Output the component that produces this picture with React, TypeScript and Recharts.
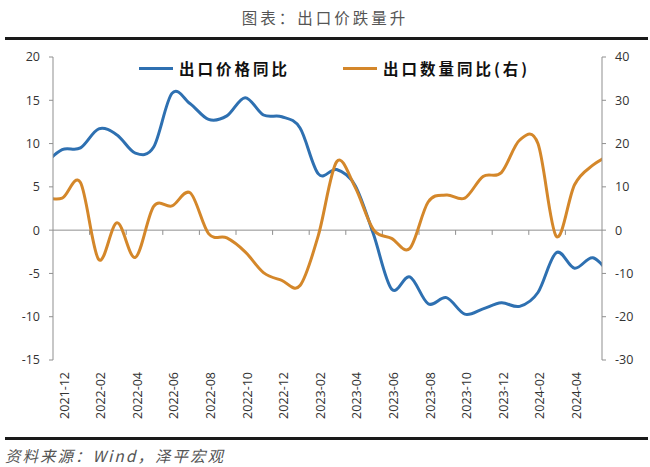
import { LineChart, Line, XAxis, YAxis, ReferenceLine, Legend } from "recharts";

// 2021-11 and 2024-06 sit just outside the axis and get clipped, like the original
const months = [
  "2021-11", "2021-12",
  "2022-01", "2022-02", "2022-03", "2022-04", "2022-05", "2022-06",
  "2022-07", "2022-08", "2022-09", "2022-10", "2022-11", "2022-12",
  "2023-01", "2023-02", "2023-03", "2023-04", "2023-05", "2023-06",
  "2023-07", "2023-08", "2023-09", "2023-10", "2023-11", "2023-12",
  "2024-01", "2024-02", "2024-03", "2024-04", "2024-05", "2024-06",
];

// 出口价格同比 (left axis)
const priceYoY = [
  7.6, 9.3,
  9.5, 11.7, 11.0, 8.9, 9.6, 15.8,
  14.6, 12.8, 13.2, 15.3, 13.3, 13.1,
  11.8, 6.5, 7.0, 5.2, -0.4, -6.8,
  -5.4, -8.5, -7.8, -9.7, -9.1, -8.4,
  -8.8, -7.2, -2.6, -4.4, -3.2, -5.2,
];

// 出口数量同比 (right axis)
const volumeYoY = [
  7.6, 7.4,
  11.0, -6.8, 1.7, -6.3, 5.5, 5.6,
  8.6, -0.8, -1.8, -5.0, -9.8, -11.6,
  -12.8, -1.2, 15.8, 10.0, 0.2, -1.9,
  -4.2, 6.5, 8.1, 7.4, 12.4, 13.3,
  20.8, 20.0, -1.4, 10.5, 15.0, 17.5,
];

const leftTicks = [-15, -10, -5, 0, 5, 10, 15, 20];
const rightTicks = [-30, -20, -10, 0, 10, 20, 30, 40];

const labelTicks = months.map((_, i) => i).filter((i) => i % 2 === 1 && i < months.length - 2);
const boundaryTicks = labelTicks.slice(1).map((i) => i - 0.5);

const data = months.map((m, i) => ({ x: i, month: m, price: priceYoY[i], volume: volumeYoY[i] }));

const BLUE = "#2e70b1";
const ORANGE = "#d4872a";
const AXIS = "#8f8f8f";
const FONT = "'Open Sans', 'Noto Sans CJK SC', sans-serif";
const CJK = "'Noto Sans CJK SC', sans-serif";

const legendLeft = [139, 343];

// Excel-style smoothed line: Catmull-Rom through every point
function smoothCurve(context: any) {
  let pts: number[][] = [];
  return {
    areaStart() {},
    areaEnd() {},
    lineStart() {
      pts = [];
    },
    point(x: number, y: number) {
      pts.push([+x, +y]);
    },
    lineEnd() {
      if (!pts.length) return;
      context.moveTo(pts[0][0], pts[0][1]);
      for (let i = 0; i < pts.length - 1; i++) {
        const p0 = pts[i - 1] || pts[i];
        const p1 = pts[i];
        const p2 = pts[i + 1];
        const p3 = pts[i + 2] || p2;
        context.bezierCurveTo(
          p1[0] + (p2[0] - p0[0]) / 6,
          p1[1] + (p2[1] - p0[1]) / 6,
          p2[0] - (p3[0] - p1[0]) / 6,
          p2[1] - (p3[1] - p1[1]) / 6,
          p2[0],
          p2[1]
        );
      }
    },
  };
}

function MonthTick(props: any) {
  const { x, y, payload } = props;
  const tx = x + 2;
  const ty = y + 4;
  return (
    <text
      x={tx}
      y={ty}
      transform={`rotate(-90, ${tx}, ${ty})`}
      textAnchor="end"
      dominantBaseline="central"
      fill="#333"
      fontSize={12.5}
      fontFamily={FONT}
    >
      {months[payload.value]}
    </text>
  );
}

function LegendContent(props: any) {
  const items = props.payload || [];
  return (
    <div style={{ position: "relative", height: 22 }}>
      {items.map((p: any, i: number) => (
        <div
          key={p.value}
          style={{ position: "absolute", left: legendLeft[i], top: 0, height: 22, display: "flex", alignItems: "center" }}
        >
          <span style={{ display: "inline-block", width: 34, height: 3, background: p.color, marginRight: 6 }} />
          <span style={{ fontFamily: CJK, fontWeight: 700, fontSize: 15.5, letterSpacing: 3, color: "#111" }}>{p.value}</span>
        </div>
      ))}
    </div>
  );
}

export default function App() {
  return (
    <div style={{ position: "absolute", left: 0, top: 0, width: 650, height: 467, background: "#fff", overflow: "hidden" }}>
      <div
        style={{
          position: "absolute", left: 0, top: 6, width: 650, textAlign: "center",
          fontFamily: CJK, fontSize: 15.5, letterSpacing: 3, color: "#555",
        }}
      >
        图表：出口价跌量升
      </div>
      <div style={{ position: "absolute", left: 5, top: 37, width: 643, height: 3, background: "#1a1a1a" }} />

      <div style={{ position: "absolute", left: 0, top: 0 }}>
        <LineChart width={650} height={467} data={data} margin={{ top: 57, right: 0, bottom: 0, left: 0 }}>
          <XAxis
            dataKey="x"
            type="number"
            domain={[0.5, 30.5]}
            allowDataOverflow
            ticks={labelTicks}
            interval={0}
            tick={<MonthTick />}
            axisLine={false}
            tickLine={false}
            height={107}
          />
          <YAxis
            yAxisId="left"
            domain={[-15, 20]}
            ticks={leftTicks}
            interval={0}
            width={53}
            tickSize={4}
            tickMargin={9}
            axisLine={{ stroke: AXIS }}
            tickLine={{ stroke: AXIS }}
            tick={{ fill: "#333", fontSize: 12.5, fontFamily: FONT }}
          />
          <YAxis
            yAxisId="right"
            orientation="right"
            domain={[-30, 40]}
            ticks={rightTicks}
            interval={0}
            width={48}
            tickSize={4}
            tickMargin={9}
            axisLine={{ stroke: AXIS }}
            tickLine={{ stroke: AXIS }}
            tick={{ fill: "#333", fontSize: 12.5, fontFamily: FONT }}
          />
          <ReferenceLine yAxisId="left" y={0} stroke={AXIS} strokeWidth={1} />
          {boundaryTicks.map((b) => (
            <ReferenceLine
              key={b}
              yAxisId="left"
              segment={[{ x: b, y: 0 }, { x: b, y: -0.55 }]}
              stroke={AXIS}
              strokeWidth={1}
            />
          ))}
          <Legend layout="horizontal" verticalAlign="middle" wrapperStyle={{ top: 57, left: 0, width: 650 }} content={<LegendContent />} />
          <Line
            yAxisId="left"
            dataKey="price"
            name="出口价格同比"
            type={smoothCurve as any}
            stroke={BLUE}
            strokeWidth={3}
            dot={false}
            isAnimationActive={false}
          />
          <Line
            yAxisId="right"
            dataKey="volume"
            name="出口数量同比(右)"
            type={smoothCurve as any}
            stroke={ORANGE}
            strokeWidth={3}
            dot={false}
            isAnimationActive={false}
          />
        </LineChart>
      </div>

      <div style={{ position: "absolute", left: 5, top: 437, width: 643, height: 3, background: "#1a1a1a" }} />
      <div
        style={{
          position: "absolute", left: 5, top: 444, fontFamily: CJK, fontStyle: "italic",
          fontSize: 15.5, letterSpacing: 2, color: "#555", whiteSpace: "nowrap",
        }}
      >
        资料来源：Wind，泽平宏观
      </div>
    </div>
  );
}
